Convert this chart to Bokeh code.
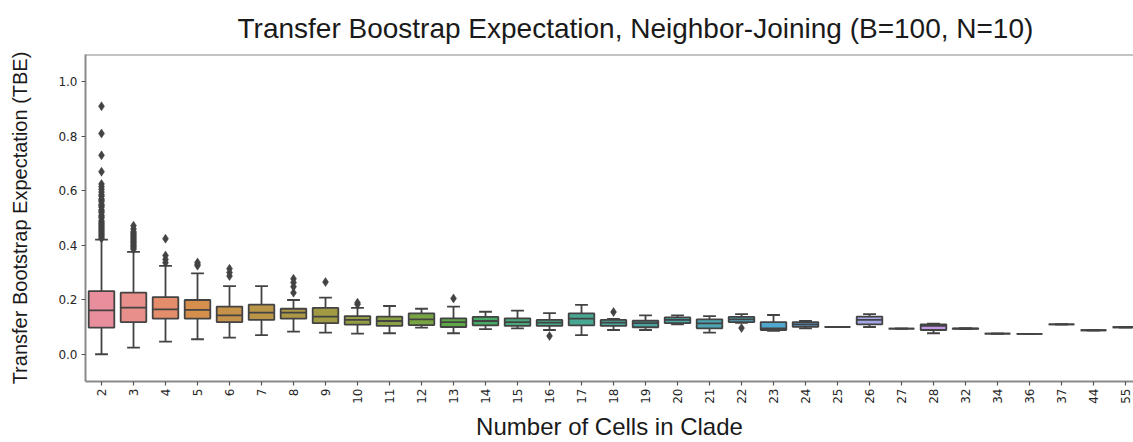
import math
import colorsys
import numpy as np
from bokeh.plotting import figure
from bokeh.models import Range1d, FixedTicker, Span, ColumnDataSource, PrintfTickFormatter
from bokeh.embed import file_html
from bokeh.resources import INLINE

# ---------------- data ----------------
cells = ["2", "3", "4", "5", "6", "7", "8", "9", "10", "11", "12", "13", "14", "15",
         "16", "17", "18", "19", "20", "21", "22", "23", "24", "25", "26", "27", "28",
         "32", "34", "36", "37", "44", "55"]

whisker_low = [0.000, 0.024, 0.046, 0.055, 0.061, 0.070, 0.083, 0.079, 0.076, 0.077, 0.098,
               0.077, 0.092, 0.095, 0.089, 0.070, 0.089, 0.089, 0.110, 0.079, 0.115, 0.086,
               0.095, 0.100, 0.100, 0.094, 0.077, 0.092, 0.076, 0.075, 0.110, 0.088, 0.099]
q1 = [0.098, 0.118, 0.131, 0.131, 0.118, 0.126, 0.131, 0.114, 0.109, 0.104, 0.107,
      0.100, 0.106, 0.104, 0.104, 0.106, 0.104, 0.099, 0.114, 0.095, 0.118, 0.089,
      0.101, 0.100, 0.110, 0.094, 0.089, 0.093, 0.076, 0.075, 0.110, 0.088, 0.099]
median = [0.161, 0.171, 0.165, 0.163, 0.143, 0.153, 0.153, 0.138, 0.126, 0.122, 0.128,
          0.118, 0.122, 0.118, 0.116, 0.131, 0.116, 0.114, 0.126, 0.113, 0.128, 0.095,
          0.110, 0.100, 0.126, 0.094, 0.104, 0.094, 0.076, 0.075, 0.110, 0.088, 0.099]
q3 = [0.232, 0.226, 0.210, 0.199, 0.175, 0.182, 0.167, 0.170, 0.140, 0.138, 0.150,
      0.132, 0.137, 0.132, 0.126, 0.150, 0.126, 0.123, 0.135, 0.128, 0.137, 0.118,
      0.118, 0.100, 0.138, 0.094, 0.110, 0.095, 0.076, 0.075, 0.110, 0.088, 0.099]
whisker_high = [0.421, 0.376, 0.324, 0.297, 0.250, 0.250, 0.199, 0.208, 0.170, 0.177, 0.167,
                0.175, 0.156, 0.160, 0.151, 0.181, 0.130, 0.143, 0.143, 0.140, 0.147, 0.144,
                0.122, 0.100, 0.147, 0.094, 0.112, 0.096, 0.076, 0.075, 0.110, 0.088, 0.099]

outliers = {
    "2": [0.91, 0.81, 0.73, 0.67, 0.625, 0.615, 0.605, 0.595, 0.585, 0.58, 0.57, 0.565,
          0.56, 0.55, 0.545, 0.54, 0.53, 0.525, 0.52, 0.51, 0.505, 0.50, 0.49, 0.485,
          0.48, 0.475, 0.47, 0.465, 0.46, 0.455, 0.45, 0.445, 0.44, 0.435, 0.43, 0.425],
    "3": [0.472, 0.46, 0.45, 0.445, 0.44, 0.435, 0.43, 0.425, 0.42, 0.415, 0.41, 0.405,
          0.40, 0.395, 0.39, 0.385],
    "4": [0.424, 0.362, 0.348, 0.336],
    "5": [0.337, 0.330, 0.325],
    "6": [0.314, 0.300, 0.287],
    "8": [0.277, 0.263, 0.248, 0.226],
    "9": [0.265],
    "10": [0.189, 0.183],
    "13": [0.205],
    "16": [0.067],
    "18": [0.155],
    "22": [0.096],
}

title_text = "Transfer Boostrap Expectation, Neighbor-Joining (B=100, N=10)"
x_label = "Number of Cells in Clade"
y_label = "Transfer Bootstrap Expectation (TBE)"
y_ticks = [0.0, 0.2, 0.4, 0.6, 0.8, 1.0]

# ---------------- husl palette (as seaborn) ----------------
_m = [[3.2406, -1.5372, -0.4986], [-0.9689, 1.8758, 0.0415], [0.0557, -0.2040, 1.0570]]
_refU, _refV = 0.19784, 0.46834
_lab_e, _lab_k = 0.008856, 903.3


def _max_chroma(L, H):
    hrad = math.radians(H)
    sinH, cosH = math.sin(hrad), math.cos(hrad)
    sub1 = (L + 16) ** 3 / 1560896.0
    sub2 = sub1 if sub1 > 0.008856 else L / 903.3
    result = float("inf")
    for m1, m2, m3 in _m:
        top = (0.99915 * m1 + 1.05122 * m2 + 1.14460 * m3) * sub2
        rbottom = 0.86330 * m3 - 0.17266 * m2
        lbottom = 0.12949 * m3 - 0.38848 * m1
        bottom = (rbottom * sinH + lbottom * cosH) * sub2
        for t in (0.0, 1.0):
            C = L * (top - 1.05122 * t) / (bottom + 0.17266 * sinH * t)
            if 0.0 < C < result:
                result = C
    return result


def _f_inv(t):
    return t ** 3 if t ** 3 > _lab_e else (116 * t - 16) / _lab_k


def _from_linear(c):
    return 12.92 * c if c <= 0.0031308 else 1.055 * c ** (1 / 2.4) - 0.055


def husl_to_rgb(H, S, L):
    C = _max_chroma(L, H) / 100.0 * S
    hrad = math.radians(H)
    U, V = math.cos(hrad) * C, math.sin(hrad) * C
    varY = _f_inv((L + 16) / 116.0)
    varU = U / (13 * L) + _refU
    varV = V / (13 * L) + _refV
    Y = varY
    X = 0 - (9 * Y * varU) / ((varU - 4) * varV - varU * varV)
    Z = (9 * Y - 15 * varV * Y - varV * X) / (3 * varV)
    return [_from_linear(r[0] * X + r[1] * Y + r[2] * Z) for r in _m]


n = len(cells)
hues = (np.linspace(0, 1, n + 1)[:-1] + 0.01) % 1 * 359
colors = []
lights = []
for h in hues:
    r, g, b = np.clip(husl_to_rgb(h, 0.9 * 99, 0.68 * 99), 0, 1)
    hh, ll, ss = colorsys.rgb_to_hls(r, g, b)
    r, g, b = colorsys.hls_to_rgb(hh, ll, ss * 0.75)
    lights.append(colorsys.rgb_to_hls(r, g, b)[1])
    colors.append("#%02x%02x%02x" % (int(round(r * 255)), int(round(g * 255)), int(round(b * 255))))
lum = min(lights) * 0.6
gray = "#%02x%02x%02x" % ((int(round(lum * 255)),) * 3)

# ---------------- figure ----------------
p = figure(width=1133, height=442, x_range=Range1d(-0.5, 32.25), y_range=Range1d(-0.1, 1.1),
           output_backend="svg", toolbar_location=None,
           min_border_left=85, min_border_right=0, min_border_top=54, min_border_bottom=60)
p.background_fill_color = "white"
p.border_fill_color = "white"
p.outline_line_color = None
p.grid.visible = False

p.title.text = title_text
p.title.align = "left"
p.title.offset = 152
p.title.text_font = "Liberation Sans"
p.title.text_font_size = "28px"
p.title.text_font_style = "normal"
p.title.text_color = "#1a1a1a"
p.title.standoff = 21

xs = list(range(n))
half = 0.4
cap = 0.2
src = ColumnDataSource(dict(
    x=xs, left=[x - half for x in xs], right=[x + half for x in xs],
    cl=[x - cap for x in xs], cr=[x + cap for x in xs],
    lo=whisker_low, q1=q1, med=median, q3=q3, hi=whisker_high, color=colors))

lw = 1.8
p.segment(x0="x", y0="q3", x1="x", y1="hi", source=src, line_color=gray, line_width=lw)
p.segment(x0="x", y0="lo", x1="x", y1="q1", source=src, line_color=gray, line_width=lw)
p.segment(x0="cl", y0="hi", x1="cr", y1="hi", source=src, line_color=gray, line_width=lw)
p.segment(x0="cl", y0="lo", x1="cr", y1="lo", source=src, line_color=gray, line_width=lw)
p.quad(left="left", right="right", bottom="q1", top="q3", source=src,
       fill_color="color", line_color=gray, line_width=lw)
p.segment(x0="left", y0="med", x1="right", y1="med", source=src, line_color=gray, line_width=lw)

ox, oy = [], []
for c, vals in outliers.items():
    i = cells.index(c)
    for v in vals:
        ox.append(i)
        oy.append(v)
p.scatter(ox, oy, marker="diamond", size=9, fill_color=gray, line_color=gray, line_width=0.5)

p.add_layout(Span(location=1.1, dimension="width", line_color="#8a8a8a", line_width=2))

axis_gray = "#8a8a8a"
for ax in (p.xaxis[0], p.yaxis[0]):
    ax.axis_line_color = axis_gray
    ax.axis_line_width = 2
    ax.major_tick_line_color = "#555555"
    ax.major_tick_line_width = 1.2
    ax.major_tick_out = 4
    ax.major_tick_in = 0
    ax.minor_tick_line_color = None
    ax.major_label_text_font = "DejaVu Sans"
    ax.major_label_text_font_size = "12px"
    ax.major_label_text_color = "#262626"
    ax.axis_label_text_font = "Liberation Sans"
    ax.axis_label_text_font_style = "normal"
    ax.axis_label_text_color = "#1a1a1a"

p.xaxis.ticker = FixedTicker(ticks=xs)
p.xaxis.major_label_overrides = {i: c for i, c in enumerate(cells)}
p.xaxis.major_label_orientation = math.pi / 2
p.xaxis.major_label_standoff = 3
p.xaxis.axis_label = x_label
p.xaxis.axis_label_text_font_size = "24px"
p.xaxis.axis_label_standoff = 6

p.yaxis.ticker = FixedTicker(ticks=y_ticks)
p.yaxis.formatter = PrintfTickFormatter(format="%.1f")
p.yaxis.major_label_standoff = 4
p.yaxis.axis_label = y_label
p.yaxis.axis_label_text_font_size = "20px"
p.yaxis.axis_label_standoff = 24

open("out.html", "w").write(file_html(p, INLINE))
